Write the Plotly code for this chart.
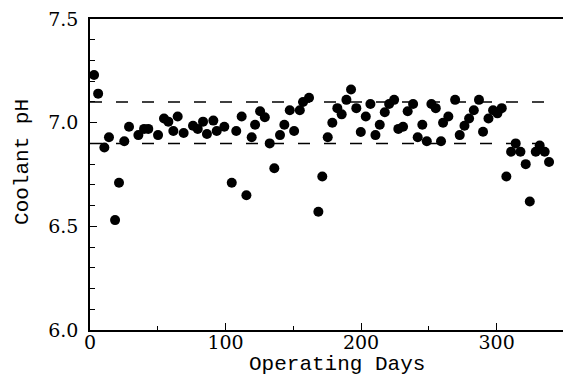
import plotly.graph_objects as go

days = [3, 6, 10.6, 14, 18.5, 21.4, 25.3, 28.8, 35.7, 39.9, 43, 50.2, 54.6, 57.8,
        61.5, 64.7, 69.1, 76, 79.5, 83.4, 86.3, 91, 93.5, 99.1, 104.6, 107.9,
        111.9, 115.4, 119.3, 121.8, 125.5, 129, 132.6, 136, 140.2, 143.4, 147.4,
        150.6, 154.8, 157.2, 161.6, 168.5, 171.4, 175.4, 178.8, 182.5, 185.7,
        189.2, 192.6, 196.5, 199.8, 203.5, 206.9, 210.6, 213.8, 217.5, 220.7,
        224.4, 227.5, 231, 234.4, 238.4, 241.8, 245.2, 248.5, 251.9, 255.1, 259,
        260.5, 264.4, 269.4, 272.8, 276.3, 279.7, 283.2, 287, 290, 294, 297.4,
        300.6, 303.8, 307.2, 310.7, 314.1, 317.6, 321.5, 324.5, 328.9, 331.8,
        335.5, 338.7]
ph = [7.23, 7.14, 6.88, 6.93, 6.53, 6.71, 6.91, 6.98, 6.94, 6.97, 6.97, 6.94, 7.02,
      7.005, 6.96, 7.03, 6.95, 6.985, 6.97, 7.005, 6.945, 7.01, 6.96, 6.98, 6.71,
      6.96, 7.03, 6.65, 6.93, 6.99, 7.055, 7.026, 6.90, 6.78, 6.94, 6.99, 7.06,
      6.96, 7.06, 7.10, 7.12, 6.57, 6.74, 6.93, 7.00, 7.07, 7.04, 7.11, 7.16,
      7.07, 6.955, 7.03, 7.09, 6.94, 6.99, 7.05, 7.09, 7.11, 6.97, 6.98, 7.055,
      7.09, 6.93, 6.99, 6.91, 7.09, 7.07, 6.91, 7.00, 7.03, 7.11, 6.94, 6.985,
      7.02, 7.06, 7.11, 6.956, 7.02, 7.06, 7.045, 7.07, 6.74, 6.86, 6.90, 6.86,
      6.80, 6.62, 6.86, 6.89, 6.86, 6.81]

limit_lines = [7.1, 6.9]
limit_span = [0, 342]

x_ticks = [0, 100, 200, 300]
y_ticks = [6.0, 6.5, 7.0, 7.5]
y_tick_labels = ["6.0", "6.5", "7.0", "7.5"]

fig = go.Figure()

for lv in limit_lines:
    fig.add_trace(go.Scatter(
        x=limit_span, y=[lv, lv], mode="lines",
        line=dict(color="black", width=1.5, dash="12px,14px"),
        hoverinfo="skip", showlegend=False))

fig.add_trace(go.Scatter(
    x=days, y=ph, mode="markers",
    marker=dict(color="black", size=10, line=dict(width=0)),
    showlegend=False))

tick_font = dict(family="DejaVu Serif", size=19, color="black")
title_font = dict(family="Liberation Mono", size=21, color="black")

fig.update_layout(
    width=564, height=380,
    margin=dict(l=90, r=1, t=19, b=50, autoexpand=False),
    paper_bgcolor="white", plot_bgcolor="white",
    xaxis=dict(
        range=[0, 349], tickvals=x_ticks, ticktext=[str(v) for v in x_ticks],
        ticks="inside", ticklen=7, tickwidth=1.2, tickcolor="black",
        minor=dict(tickvals=[50, 150, 250], ticks="inside", ticklen=4,
                   tickwidth=1.2, tickcolor="black", showgrid=False),
        showline=True, linecolor="black", linewidth=1.5, mirror=True,
        showgrid=False, zeroline=False, tickfont=tick_font, automargin=False,
        ticklabelstandoff=-6,
    ),
    yaxis=dict(
        range=[6.0, 7.5], tickvals=y_ticks, ticktext=y_tick_labels,
        ticks="inside", ticklen=7, tickwidth=1.2, tickcolor="black",
        minor=dict(dtick=0.1, ticks="inside", ticklen=5, tickwidth=1.2,
                   tickcolor="black", showgrid=False),
        showline=True, linecolor="black", linewidth=1.5,
        showgrid=False, zeroline=False, tickfont=tick_font,
        ticklabelstandoff=6, automargin=False,
    ),
    annotations=[
        dict(text="Operating Days", xref="paper", yref="paper",
             x=0.522, y=-0.11, xanchor="center", yanchor="middle",
             showarrow=False, font=title_font),
        dict(text="Coolant pH", xref="paper", yref="paper",
             x=-0.144, y=0.54, xanchor="center", yanchor="middle",
             textangle=-90, showarrow=False, font=title_font),
    ],
)

fig.write_html("out.html", config={"displayModeBar": False},
               post_script="document.body.style.margin='0';document.body.style.overflow='hidden';")
